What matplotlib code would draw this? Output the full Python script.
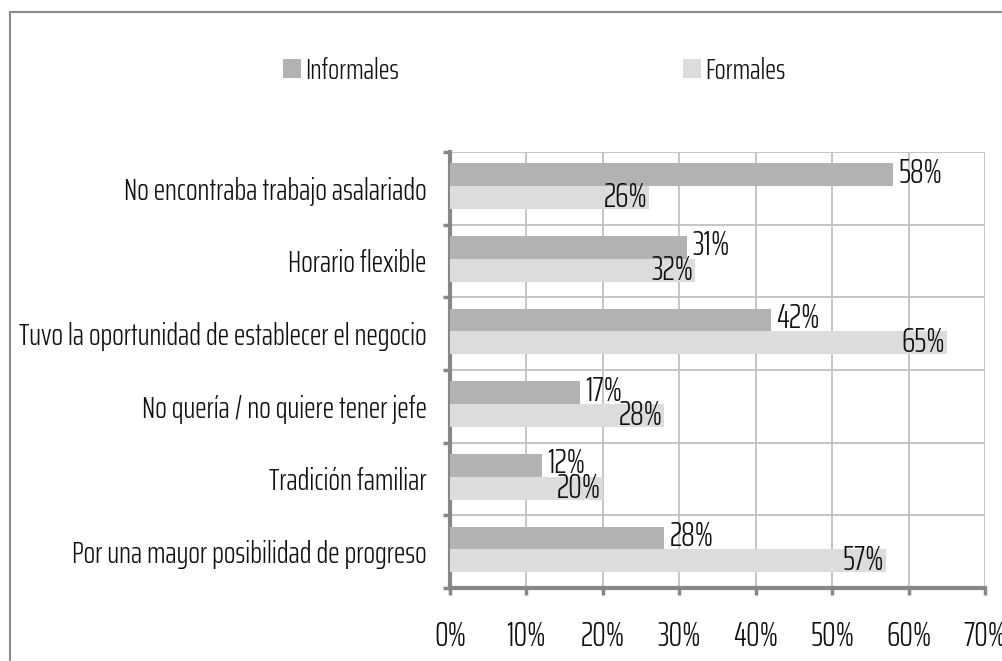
import matplotlib.pyplot as plt
import numpy as np

categories = [
    "No encontraba trabajo asalariado",
    "Horario flexible",
    "Tuvo la oportunidad de establecer el negocio",
    "No quería / no quiere tener jefe",
    "Tradición familiar",
    "Por una mayor posibilidad de progreso",
]
informales = [58, 31, 42, 17, 12, 28]
formales = [26, 32, 65, 28, 20, 57]
x_ticks = [0, 10, 20, 30, 40, 50, 60, 70]

plt.rcParams["font.family"] = ["Saira ExtraCondensed", "Pathway Gothic One", "DejaVu Sans"]
plt.rcParams["font.weight"] = 300
plt.rcParams["text.color"] = "#111111"
plt.rcParams["xtick.labelcolor"] = "#111111"
plt.rcParams["ytick.labelcolor"] = "#111111"

dark = "#b2b2b2"
light = "#dcdcdc"
axis_col = "#878787"
grid_col = "#c0c0c0"
W, H = 1003, 661

fig = plt.figure(figsize=(W / 100, H / 100), dpi=100)

# size the text so the longest category label spans the left margin
probe = fig.text(0, 0, max(categories, key=len), fontsize=10)
fig.canvas.draw()
fs = 10 * 409 / probe.get_window_extent().width
probe.remove()
fs_num = fs * 1.12

ax = fig.add_axes([450 / W, 1 - 588 / H, (985 - 450) / W, (588 - 152) / H])

n = len(categories)
y = np.arange(n)
h = 0.315
off = -0.03
b1 = ax.barh(y - h / 2 + off, informales, height=h, color=dark, zorder=3)
b2 = ax.barh(y + h / 2 + off, formales, height=h, color=light, zorder=3)

for i in range(n):
    ax.annotate(f"{informales[i]}%", (informales[i], y[i] - h / 2 + off),
                xytext=(4, 1), textcoords="offset points",
                ha="left", va="center", fontsize=fs_num, zorder=4)
    ax.annotate(f"{formales[i]}%", (formales[i], y[i] + h / 2 + off),
                xytext=(-1, 0), textcoords="offset points",
                ha="right", va="center", fontsize=fs_num, zorder=4)

ax.set_xlim(0, 70)
ax.set_ylim(n - 0.5, -0.5)
ax.set_xticks(x_ticks)
ax.set_xticklabels([f"{t}%" for t in x_ticks], fontsize=fs_num)
ax.set_yticks(y)
ax.set_yticklabels(categories, fontsize=fs)
ax.set_yticks(np.arange(n + 1) - 0.5, minor=True)

ax.grid(axis="x", color=grid_col, lw=1.3, zorder=1)
ax.grid(axis="y", which="minor", color=grid_col, lw=1.3, zorder=1)
ax.tick_params(axis="y", which="major", length=0, pad=17)
ax.tick_params(axis="y", which="minor", length=5, width=2.5, color=axis_col, direction="out")
ax.tick_params(axis="x", length=5, width=2.5, color=axis_col, pad=18)

for side in ["top", "right"]:
    ax.spines[side].set_visible(False)
for side in ["left", "bottom"]:
    ax.spines[side].set_color(axis_col)
    ax.spines[side].set_linewidth(3)

# one legend entry per series, placed apart like the source layout
for handle, name, x0 in [(b1, "Informales", 283), (b2, "Formales", 683)]:
    fig.legend([handle], [name], loc="center left", bbox_to_anchor=(x0 / W, 1 - 71 / H),
               frameon=False, fontsize=fs * 0.95, borderpad=0, borderaxespad=0,
               handlelength=0.62, handleheight=0.62, handletextpad=0.15)

# chart area border (only top and left edges fall inside the image)
fig.patches.append(plt.Rectangle((10 / W, -0.1), 1.1, 1 - 12 / H + 0.1,
                                 transform=fig.transFigure, fill=False,
                                 edgecolor="#8c8c8c", lw=1.5))

fig.savefig("out.png", dpi=100)
